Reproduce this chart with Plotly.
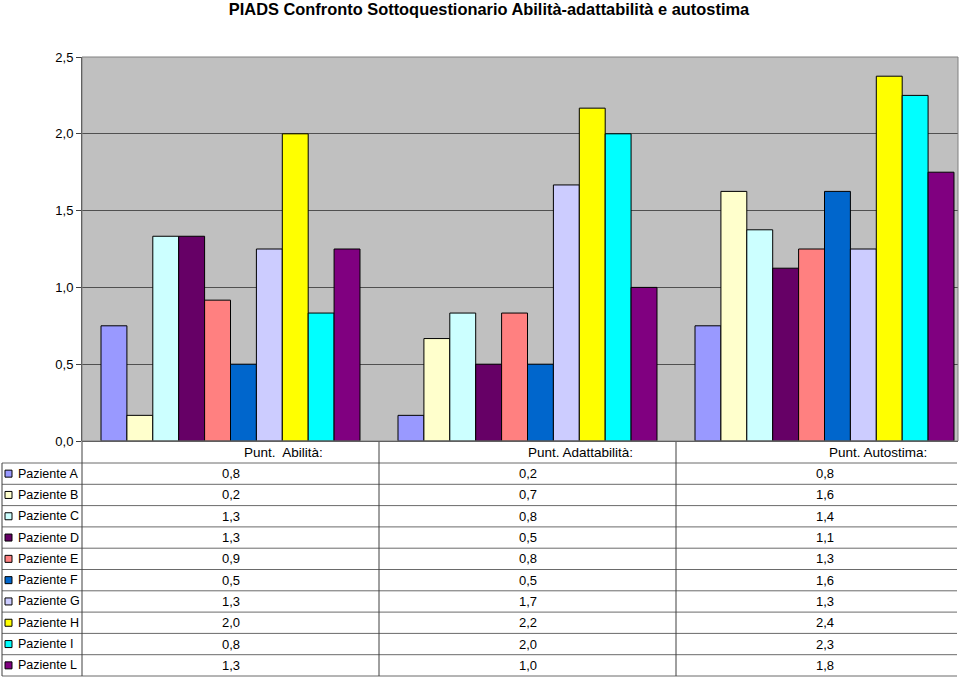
import plotly.graph_objects as go
from decimal import Decimal, ROUND_HALF_UP

title = "PIADS Confronto Sottoquestionario Abilità-adattabilità e autostima"
categories = ["Punt.\u00a0 Abilità:", "Punt. Adattabilità:", "Punt. Autostima:"]
patients = ["Paziente A", "Paziente B", "Paziente C", "Paziente D", "Paziente E",
            "Paziente F", "Paziente G", "Paziente H", "Paziente I", "Paziente L"]
colors = ["#9999FF", "#FFFFCC", "#CCFFFF", "#660066", "#FF8080",
          "#0066CC", "#CCCCFF", "#FFFF00", "#00FFFF", "#800080"]

abilita = [0.75, 0.167, 1.333, 1.333, 0.917, 0.5, 1.25, 2.0, 0.833, 1.25]
adattabilita = [0.167, 0.667, 0.833, 0.5, 0.833, 0.5, 1.667, 2.167, 2.0, 1.0]
autostima = [0.75, 1.625, 1.375, 1.125, 1.25, 1.625, 1.25, 2.375, 2.25, 1.75]

y_ticks = [0, 0.5, 1.0, 1.5, 2.0, 2.5]

W, H = 960, 679
L_PX, R_PX, T_PX, B_PX = 82, 958, 57, 441
GROUP_PX = 297.0

def px(x):
    return (x - L_PX) / (R_PX - L_PX)

def py(y):
    return (B_PX - y) / (B_PX - T_PX)

def fmt(v):
    return str(Decimal(str(v)).quantize(Decimal("0.1"), ROUND_HALF_UP)).replace(".", ",")

series = [abilita, adattabilita, autostima]

fig = go.Figure()
for i, name in enumerate(patients):
    fig.add_trace(go.Bar(
        x=[0, 1, 2],
        y=[s[i] for s in series],
        name=name,
        marker=dict(color=colors[i], line=dict(color="#000000", width=1)),
        showlegend=False,
    ))

x_span = (R_PX - L_PX) / GROUP_PX

shapes = []
annotations = []
FAM = "Liberation Sans, Arial, sans-serif"
font_lbl = dict(family=FAM, size=12.5, color="#000000")
font_val = dict(family=FAM, size=13, color="#000000")
font_hdr = dict(family=FAM, size=13.5, color="#000000")

row_top = 463
row_h = (676 - 463) / 10.0
hline_col = "#6a6a6a"
vline_col = "#404040"

# horizontal row lines
for r in range(11):
    yy = row_top + r * row_h
    shapes.append(dict(type="line", xref="paper", yref="paper",
                       x0=px(2), x1=px(957), y0=py(yy), y1=py(yy),
                       line=dict(color=hline_col, width=1)))
# vertical lines
shapes.append(dict(type="line", xref="paper", yref="paper", x0=px(2), x1=px(2),
                   y0=py(463), y1=py(676), line=dict(color=vline_col, width=1)))
shapes.append(dict(type="line", xref="paper", yref="paper", x0=0, x1=0,
                   y0=py(441), y1=py(676), line=dict(color=vline_col, width=1)))
for g in range(1, 3):
    xx = L_PX + g * GROUP_PX
    shapes.append(dict(type="line", xref="paper", yref="paper", x0=px(xx), x1=px(xx),
                       y0=py(441), y1=py(676), line=dict(color=vline_col, width=1)))

# header labels
for g, cat in enumerate(categories):
    xc = L_PX + (g + 0.5) * GROUP_PX + 53
    annotations.append(dict(text=cat, xref="paper", yref="paper", x=px(xc), y=py(452),
                            xanchor="center", yanchor="middle", showarrow=False, font=font_hdr))

# rows
for i, name in enumerate(patients):
    yc = row_top + (i + 0.5) * row_h
    shapes.append(dict(type="rect", xref="paper", yref="paper",
                       x0=px(5), x1=px(12), y0=py(yc - 3.5), y1=py(yc + 3.5),
                       fillcolor=colors[i], line=dict(color="#000000", width=1)))
    annotations.append(dict(text=name, xref="paper", yref="paper", x=px(16), y=py(yc),
                            xanchor="left", yanchor="middle", showarrow=False, font=font_lbl))
    for g, s in enumerate(series):
        xc = L_PX + (g + 0.5) * GROUP_PX
        annotations.append(dict(text=fmt(s[i]), xref="paper", yref="paper", x=px(xc), y=py(yc),
                                xanchor="center", yanchor="middle", showarrow=False, font=font_val))

fig.update_layout(
    width=W, height=H,
    margin=dict(l=L_PX, r=W - R_PX, t=T_PX, b=H - B_PX, pad=0),
    paper_bgcolor="#FFFFFF",
    plot_bgcolor="#C0C0C0",
    separators=",.",
    barmode="group",
    bargap=0.128,
    bargroupgap=0,
    title=dict(text="<b>" + title + "</b>", x=489 / W, xanchor="center", y=1 - 9 / H, yanchor="middle",
               font=dict(family=FAM, size=16.4, color="#000000")),
    xaxis=dict(range=[-0.5, -0.5 + x_span], showticklabels=False, showgrid=False,
               zeroline=False, showline=False, ticks="", fixedrange=True),
    yaxis=dict(range=[0, 2.5], tickvals=y_ticks, tickformat=".1f",
               showgrid=True, gridcolor="#505050", gridwidth=1,
               zeroline=True, zerolinecolor="#404040", zerolinewidth=1,
               showline=True, linecolor="#404040", linewidth=1, mirror=False,
               ticks="outside", ticklen=5, tickcolor="#404040",
               tickfont=font_val, fixedrange=True),
    shapes=shapes + [dict(type="rect", xref="paper", yref="paper", x0=0, x1=1, y0=0, y1=1,
                          line=dict(color="#808080", width=1), layer="above")],
    annotations=annotations,
)

fig.write_html("out.html")
